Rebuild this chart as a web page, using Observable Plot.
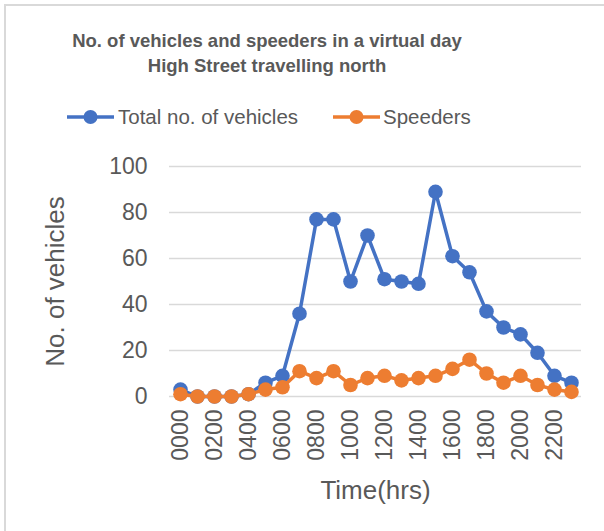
<!DOCTYPE html>
<html>
<head>
<meta charset="utf-8">
<script src="https://cdn.jsdelivr.net/npm/d3@7"></script>
<script src="https://cdn.jsdelivr.net/npm/@observablehq/plot@0.6"></script>
<style>
  html, body { margin: 0; padding: 0; background: #fff; }
  #wrap { position: relative; width: 604px; height: 531px; overflow: hidden; font-family: "Liberation Sans", Arial, sans-serif; color: #595959; }
  #frame { position: absolute; left: 4px; top: 4px; width: 640px; height: 560px; border: 2px solid #d9d9d9; box-sizing: border-box; }
  #title { position: absolute; left: 0; top: 28px; width: 534px; text-align: center; font-weight: bold; font-size: 18.5px; line-height: 25px; }
  #legend { position: absolute; left: 0; top: 105px; width: 604px; height: 24px; font-size: 20.5px; line-height: 24px; }
  #legend .sw { position: absolute; top: 0; }
  #legend .lt { position: absolute; top: 0; white-space: nowrap; }
  #chart { position: absolute; left: 0; top: 140px; }
</style>
</head>
<body>
<div id="wrap">
  <div id="frame"></div>
  <div id="title"></div>
  <div id="legend"></div>
  <div id="chart"></div>
</div>
<script>
const titleLines = ["No. of vehicles and speeders in a virtual day", "High Street travelling north"];
const seriesNames = ["Total no. of vehicles", "Speeders"];
const seriesColors = ["#4472C4", "#ED7D31"];
const times = ["0000","0100","0200","0300","0400","0500","0600","0700","0800","0900","1000","1100",
               "1200","1300","1400","1500","1600","1700","1800","1900","2000","2100","2200","2300"];
const totalVehicles = [3,0,0,0,1,6,9,36,77,77,50,70,51,50,49,89,61,54,37,30,27,19,9,6];
const speeders = [1,0,0,0,1,3,4,11,8,11,5,8,9,7,8,9,12,16,10,6,9,5,3,2];
const yTicks = [0,20,40,60,80,100];
const xTickLabels = times.filter((_, i) => i % 2 === 0);
const yLabel = "No. of vehicles";
const xLabel = "Time(hrs)";

// title
document.getElementById("title").innerHTML = titleLines.map(t => `<div>${t}</div>`).join("");

// legend
const legendPos = [{sw: 67, tx: 118}, {sw: 333, tx: 383}];
const lg = document.getElementById("legend");
seriesNames.forEach((name, i) => {
  const p = legendPos[i];
  lg.insertAdjacentHTML("beforeend",
    `<svg class="sw" style="left:${p.sw}px" width="47" height="24"><line x1="0" x2="47" y1="12" y2="12" stroke="${seriesColors[i]}" stroke-width="3.5"/><circle cx="23.5" cy="12" r="7" fill="${seriesColors[i]}"/></svg>` +
    `<span class="lt" style="left:${p.tx}px">${name}</span>`);
});

const rows = (vals, s) => times.map((t, i) => ({time: t, value: vals[i], series: s}));
const dTotal = rows(totalVehicles, seriesNames[0]);
const dSpeed = rows(speeders, seriesNames[1]);

const chart = Plot.plot({
  width: 604,
  height: 391,
  marginTop: 26,
  marginBottom: 135,
  marginLeft: 169,
  marginRight: 23,
  style: {fontFamily: "Liberation Sans, Arial, sans-serif", fontSize: "23px", color: "#595959", background: "transparent", overflow: "visible"},
  x: {type: "point", domain: times, padding: 0.5},
  y: {domain: [0, 100]},
  marks: [
    Plot.gridY(yTicks, {stroke: "#d9d9d9", strokeOpacity: 1, strokeWidth: 1.5}),
    Plot.axisY(yTicks, {tickSize: 0, tickPadding: 22, label: null, fill: "#595959", fontSize: 23}),
    Plot.axisX(xTickLabels, {tickSize: 0, tickPadding: 13, tickRotate: -90, label: null, fill: "#595959", fontSize: 23}),
    Plot.line(dTotal, {x: "time", y: "value", stroke: seriesColors[0], strokeWidth: 3.5}),
    Plot.dot(dTotal, {x: "time", y: "value", r: 7.3, fill: seriesColors[0], stroke: null}),
    Plot.line(dSpeed, {x: "time", y: "value", stroke: seriesColors[1], strokeWidth: 3.5}),
    Plot.dot(dSpeed, {x: "time", y: "value", r: 7.3, fill: seriesColors[1], stroke: null}),
    Plot.text([yLabel], {frameAnchor: "left", dx: -114, rotate: -90, textAnchor: "middle", lineAnchor: "middle", fontSize: 26, fill: "#595959", text: d => d}),
    Plot.text([xLabel], {frameAnchor: "bottom", dy: 94, textAnchor: "middle", lineAnchor: "middle", fontSize: 26, fill: "#595959", text: d => d})
  ]
});
document.getElementById("chart").appendChild(chart);
</script>
</body>
</html>
